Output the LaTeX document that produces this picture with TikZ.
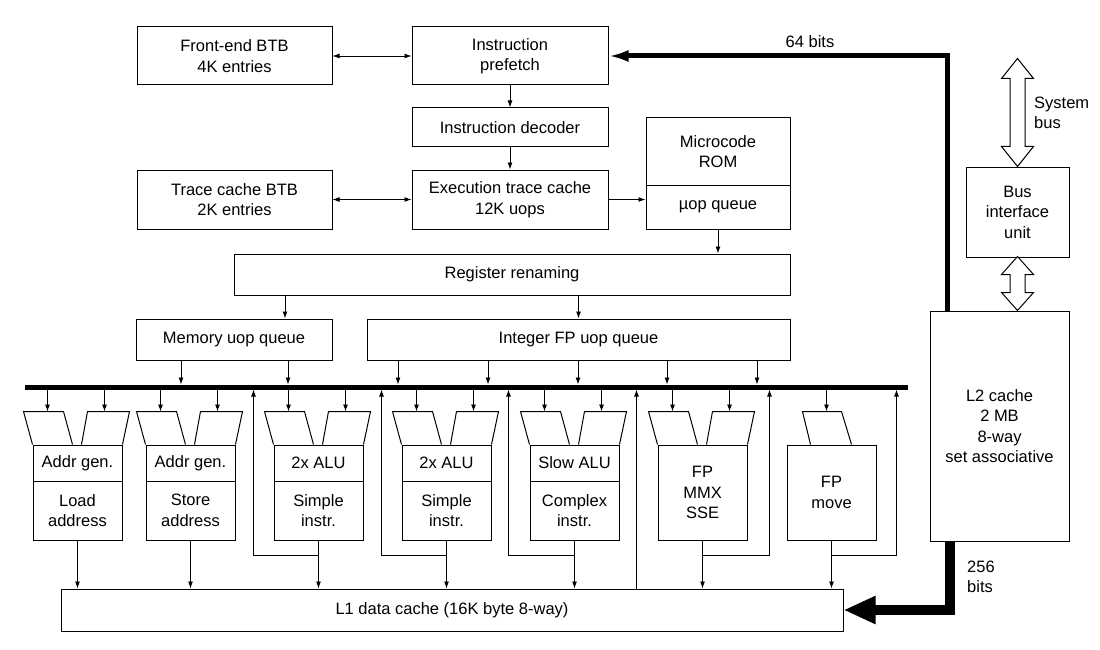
\documentclass[tikz,border=0pt]{standalone}
\usepackage{fontspec}
\setmainfont{Liberation Sans}
\usetikzlibrary{arrows.meta}

\begin{document}
\begin{tikzpicture}[x=1pt, y=-1pt,
  box/.style={draw, line width=1pt, inner sep=0pt, align=center, font=\fontsize{16.5}{20.5}\selectfont},
  unit/.style={box, minimum width=89},
  arr/.style={line width=0.9pt, -{Latex[length=7pt,width=5pt]}},
  busarr/.style={arr, shorten >=2.5pt},
  dblarr/.style={line width=0.9pt, {Latex[length=7pt,width=5pt]}-{Latex[length=7pt,width=5pt]}},
  unitline/.style={line width=1pt},
  bus/.style={line width=5pt},
  wide/.style={line width=5pt, -{Latex[length=20pt,width=12pt]}},
  wider/.style={line width=10pt, -{Triangle[length=32pt,width=26pt]}},
  hollow/.style={draw, line width=1pt, fill=white, line join=miter},
  lbl/.style={font=\fontsize{16.5}{20.5}\selectfont, align=left, inner sep=0pt}]
  \useasboundingbox (0,0) rectangle (1100,650);
  % Front end
  \node[box, minimum width=195, minimum height=58] (fbtb) at (234.5,56) {Front-end BTB\\4K entries};
  \node[box, minimum width=196, minimum height=58] (prefetch) at (510,56) {Instruction\\prefetch};
  \node[box, minimum width=196, minimum height=39] (decoder) at (510,127.5) {Instruction decoder};
  \node[box, minimum width=196, minimum height=59] (etc) at (510,199.5) {Execution trace cache\\12K uops};
  \node[box, minimum width=195, minimum height=59] (tbtb) at (234.5,199.5) {Trace cache BTB\\2K entries};
  \node[box, minimum width=144, minimum height=67] (rom) at (718,151.5) {Microcode\\ROM};
  \node[box, minimum width=144, minimum height=44] (uopq) at (718,207) {µop queue};
  \node[box, minimum width=556, minimum height=41] (rename) at (512,274.5) {Register renaming};
  \node[box, minimum width=196, minimum height=41] (memq) at (234,339.5) {Memory uop queue};
  \node[box, minimum width=423, minimum height=41] (intq) at (578.5,339.5) {Integer FP uop queue};
  % Execution units
  \node[unit, minimum height=36] (u1t) at (77.5,463) {Addr gen.};
  \node[unit, minimum height=59] (u1b) at (77.5,510.5) {Load\\address};
  \node[unit, minimum height=36] (u2t) at (190.5,463) {Addr gen.};
  \node[unit, minimum height=59] (u2b) at (190.5,510.5) {Store\\address};
  \node[unit, minimum height=36] (u3t) at (318.5,463) {2x ALU};
  \node[unit, minimum height=59] (u3b) at (318.5,510.5) {Simple\\instr.};
  \node[unit, minimum height=36] (u4t) at (446.5,463) {2x ALU};
  \node[unit, minimum height=59] (u4b) at (446.5,510.5) {Simple\\instr.};
  \node[unit, minimum height=36] (u5t) at (574.5,463) {Slow ALU};
  \node[unit, minimum height=59] (u5b) at (574.5,510.5) {Complex\\instr.};
  \node[unit, minimum height=95] (u6) at (702.5,492.5) {FP\\MMX\\SSE};
  \node[unit, minimum height=95] (u7) at (831.5,492.5) {FP\\move};
  % Caches and bus unit
  \node[box, minimum width=782, minimum height=42] (l1) at (452,610) {L1 data cache (16K byte 8-way)};
  \node[box, minimum width=139, minimum height=230] (l2) at (999.5,426) {L2 cache\\2 MB\\8-way\\set associative};
  \node[box, minimum width=103, minimum height=90] (biu) at (1017.5,212) {Bus\\interface\\unit};
  \node[lbl] (b64) at (810,42) {64 bits};
  \node[lbl, anchor=west] (b256) at (967,577) {256\\bits};
  \node[lbl, anchor=west] (sysbus) at (1034,113) {System\\bus};
  % Dispatch bus
  \coordinate (busL) at (25,387);
  \coordinate (busR) at (908,387);
  \coordinate (fb) at (0,555);
  \draw[bus] (busL) -- (busR);
  % Front end edges
  \draw[dblarr] (fbtb) -- (prefetch);
  \draw[dblarr] (tbtb) -- (etc);
  \draw[arr] (prefetch) -- (decoder);
  \draw[arr] (decoder) -- (etc);
  \draw[arr] (etc.east) -- (etc.east -| uopq.west);
  \draw[arr] (uopq.south) -- (uopq.south |- rename.north);
  \draw[arr] (rename.south -| 285,0) -- (memq.north -| 285,0);
  \draw[arr] (rename.south -| intq.north) -- (intq.north);
  \foreach \x in {181,288} \draw[busarr] (memq.south -| \x,0) -- (busL -| \x,0);
  \foreach \x in {398,488,578,667,757} \draw[busarr] (intq.south -| \x,0) -- (busL -| \x,0);
  % Input ports of the units
  \foreach \u in {u1t,u2t,u3t,u4t,u5t,u6} {
    \draw[unitline] (\u.north west) -- ++(-9,-33) -- ++(40,0) -- ++(9,33);
    \draw[unitline] (\u.north east) -- ++(7,-33) -- ++(-42,0) -- ++(-6,33);
    \draw[arr] ([xshift=15pt]\u.north west |- busL) -- ([xshift=15pt,yshift=33pt]\u.north west);
    \draw[arr] ([xshift=72pt]\u.north west |- busL) -- ([xshift=72pt,yshift=33pt]\u.north west);
  }
  \draw[unitline] (u7.north west) ++(24,0) -- ++(-8,-33) -- ++(39,0) -- ++(10,33);
  \draw[arr] ([xshift=40pt]u7.north west |- busL) -- ([xshift=40pt,yshift=33pt]u7.north west);
  % Results to L1 and back to the bus
  \foreach \u in {u1b,u2b,u3b,u4b,u5b,u6,u7} \draw[arr] (\u.south) -- (\u.south |- l1.north);
  \draw[busarr] (u3b.south |- fb) -| ([xshift=-20pt]u3b.west |- busL);
  \draw[busarr] (u4b.south |- fb) -| ([xshift=-20pt]u4b.west |- busL);
  \draw[busarr] (u5b.south |- fb) -| ([xshift=-21pt]u5b.west |- busL);
  \draw[busarr] (u6.south |- fb) -| ([xshift=22pt]u6.east |- busL);
  \draw[busarr] (u7.south |- fb) -| ([xshift=20pt]u7.east |- busL);
  \draw[busarr] ([xshift=-21pt]u6.west |- l1.north) -- ([xshift=-21pt]u6.west |- busL);
  % Wide paths
  \draw[wide] ([xshift=18pt]l2.north west) |- (prefetch.east);
  \draw[wider] ([xshift=20pt]l2.south west) |- (l1.east);
  \draw[hollow] (biu.north) -- ++(-16,-20) -- ++(8.5,0) -- ++(0,-68) -- ++(-8.5,0) -- ++(16,-20)
    -- ++(16,20) -- ++(-8.5,0) -- ++(0,68) -- ++(8.5,0) -- cycle;
  \draw[hollow] (l2.north -| biu.north) -- ++(-16,-18) -- ++(8.5,0) -- ++(0,-18) -- ++(-8.5,0) -- ++(16,-18)
    -- ++(16,18) -- ++(-8.5,0) -- ++(0,18) -- ++(8.5,0) -- cycle;
\end{tikzpicture}
\end{document}
